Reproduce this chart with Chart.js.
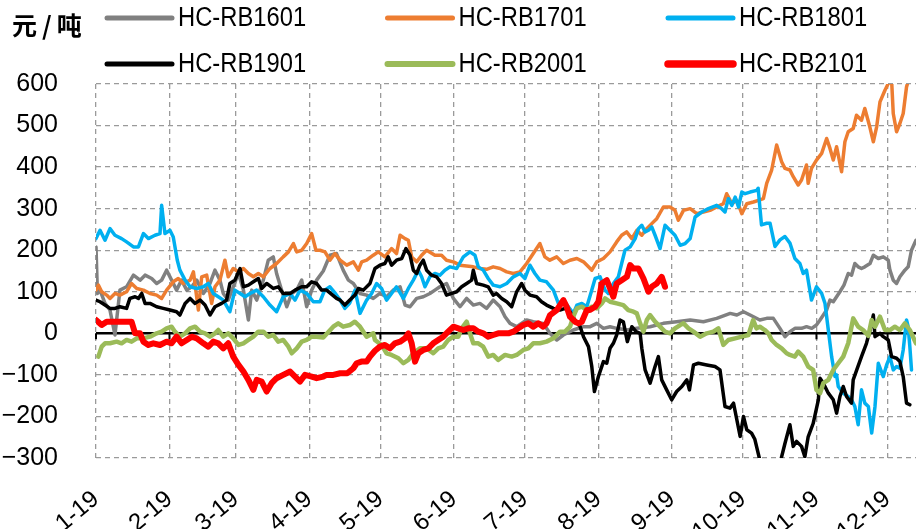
<!DOCTYPE html>
<html>
<head>
<meta charset="utf-8">
<script src="https://cdn.jsdelivr.net/npm/chart.js@4.4.1/dist/chart.umd.min.js"></script>
<style>
  html, body { margin: 0; padding: 0; background: #fff; }
  #wrap { width: 916px; height: 529px; }
</style>
</head>
<body>
<div id="wrap"><canvas id="chart" width="916" height="529"></canvas></div>
<script>
// day of year (Jan 1 = 0) where every month starts, and its label
const monthDays = [0, 31, 59, 90, 120, 151, 181, 212, 243, 273, 304, 334];
const monthLabels = ['1-19', '2-19', '3-19', '4-19', '5-19', '6-19', '7-19', '8-19', '9-19', '10-19', '11-19', '12-19'];
const unitLabel = '元/吨';
const seriesNames = ['HC-RB1601', 'HC-RB1701', 'HC-RB1801', 'HC-RB1901', 'HC-RB2001', 'HC-RB2101'];

// [day, spread]
const rb1601 = [[0,208],[0.6,96],[1.7,104],[3.8,72],[5.9,56],[8,-4],[10.1,104],[12.9,112],[15.8,140],[18.6,128],[20.7,140],[23.5,132],[25.6,120],[27.7,128],[29.8,152],[31.9,128],[34,104],[36.1,128],[38.3,104],[40.4,112],[42.5,128],[45.3,96],[48.1,120],[50.2,152],[52.3,128],[53.7,96],[55.8,80],[57.9,112],[60.1,144],[62.2,104],[64.3,32],[65.7,104],[67.8,80],[70.6,128],[72.7,176],[74.8,184],[76.2,144],[78.3,104],[80.5,64],[82.6,96],[84.7,104],[86.8,128],[88.9,64],[91,104],[93.1,128],[95.9,150],[98.7,188],[101.5,192],[104.3,152],[106.5,128],[108.6,120],[111.4,96],[114.2,92],[117,84],[119.8,96],[122.6,88],[125.4,104],[128.3,112],[130.4,68],[132.5,64],[135.3,84],[138.1,88],[140.9,96],[143,104],[145.1,112],[147.9,120],[150.8,84],[153.6,64],[156.4,84],[159.2,68],[162,72],[164.8,60],[167.6,80],[170.5,64],[172.6,40],[174.7,24],[177.5,16],[181.7,32],[184.5,28],[188.7,24],[191.5,0],[194.4,-16],[197.2,-4],[201.4,8],[205.7,16],[208.5,16],[211.3,24],[214.1,12],[216.9,16],[219.7,12],[224,8],[228.2,12],[233.8,16],[239.4,24],[245,28],[250.7,32],[256.3,28],[261.9,36],[267.6,48],[270.4,44],[273.2,52],[276,44],[280.1,32],[283,36],[285.8,36],[288.6,12],[290.7,-8],[292.8,4],[294.9,12],[297.7,12],[299.8,16],[302,12],[304,20],[305.5,32],[306.9,44],[308.3,56],[309.7,80],[311.1,76],[312.5,88],[313.9,100],[315.6,116],[317.4,144],[318.8,140],[320.2,168],[321.6,160],[323,156],[324.4,160],[326.6,168],[328,188],[330.1,180],[332.2,184],[334.3,176],[335,152],[336.4,128],[337.8,120],[339.2,136],[341.3,152],[342.7,160],[344.1,200],[346,224]];

const rb1701 = [[0,104],[1,116],[2.4,100],[4.5,92],[5.9,84],[8,96],[10.1,92],[12.9,100],[15,120],[17.2,108],[20,104],[22.8,96],[25.6,92],[27.7,84],[29.8,104],[32.6,124],[34.7,132],[36.8,120],[39.7,128],[41.1,148],[43.2,56],[44.6,136],[46.7,140],[48.8,72],[50.2,112],[52.3,128],[54.4,176],[55.8,136],[57.9,156],[60.1,148],[62.2,156],[64.3,144],[66.4,136],[68.5,144],[70.6,136],[73.4,156],[76.2,168],[79,184],[81.2,196],[83.3,216],[84.7,196],[86.8,200],[88.9,216],[91,240],[92.8,200],[94.5,200],[96.6,196],[98.7,176],[100.8,192],[103,176],[105.8,164],[108.6,172],[110.7,152],[112.1,172],[114.2,176],[117,188],[119.1,196],[121.9,184],[124.7,204],[126.8,192],[128.3,236],[130.4,228],[131.8,224],[133.2,184],[135.3,172],[137.4,188],[139.5,200],[143,188],[145.8,188],[147.9,176],[150.8,172],[153.6,164],[156.4,162],[159.2,160],[162,156],[164.8,154],[167.6,160],[170.5,156],[173.3,148],[176.1,144],[178.9,148],[181.7,168],[184.5,192],[187.3,216],[189.4,184],[191.5,176],[194.4,184],[197.2,168],[200,176],[202.9,180],[205.7,172],[207.8,160],[209.2,152],[211.3,172],[214.1,180],[216.9,196],[219.7,220],[221.8,236],[223.9,244],[226.1,228],[228.2,248],[230.3,236],[232.4,252],[234.5,264],[236.6,276],[239.4,304],[242.2,304],[244.3,296],[245.7,272],[247.9,296],[250.7,300],[253.5,288],[256.3,292],[259.1,296],[261.9,304],[264.7,312],[266.1,336],[268.3,312],[270.4,320],[272.5,288],[274.6,312],[277.4,316],[279.5,320],[281.6,324],[283,361],[285.1,393],[287.2,453],[289.3,413],[290.7,397],[292.8,393],[294.2,377],[296.3,357],[297.7,369],[299.8,405],[300.5,361],[301.9,397],[304,417],[306.2,433],[308.3,469],[309.7,445],[311.1,417],[312.5,449],[314.6,389],[316,461],[317.4,485],[319.5,493],[320.9,525],[323,513],[324.4,541],[326.5,497],[328,461],[329.4,497],[330.8,557],[332.9,585],[334.3,601],[335.7,610],[336.4,529],[337.8,485],[339.2,505],[340.6,529],[342,593],[343.4,620],[346,640]];

const rb1801 = [[0,228],[1.7,248],[3.8,224],[5.9,252],[8,236],[10.8,228],[12.9,220],[15.8,208],[17.9,208],[20,240],[22.1,228],[24.9,236],[27,240],[27.7,308],[29.1,240],[31.2,248],[32.6,232],[34.3,176],[35.4,152],[37.6,128],[39.7,112],[42.5,108],[45.3,112],[47.4,120],[49.5,96],[51.6,88],[53.7,80],[56.5,52],[58.6,104],[60.8,96],[62.9,88],[65,96],[67.8,104],[70.6,88],[73.4,68],[76.2,52],[79,88],[81.9,96],[84,80],[86.1,104],[88.9,96],[91.7,76],[94.5,76],[96.5,104],[98.7,112],[101,96],[103,80],[105,60],[107,72],[109.3,104],[111.4,48],[114.2,80],[116.3,96],[118.4,120],[120.5,108],[122.6,80],[124.7,96],[126.8,112],[129.7,84],[131.8,108],[133.9,128],[136,152],[137.4,136],[138.8,112],[140.9,136],[143,144],[145.1,140],[147.2,152],[149.4,160],[152.2,156],[155,184],[157.8,196],[159.9,188],[161.3,160],[163.4,152],[165.5,132],[167.6,116],[170.5,112],[173.3,120],[176.1,136],[178.9,144],[181,132],[183.1,164],[185.2,144],[187.3,128],[190.1,124],[193,104],[195.1,72],[197.2,80],[199.3,64],[201.4,48],[202.9,68],[205,72],[207.1,64],[209.2,104],[210.6,132],[212.7,136],[214.8,104],[216.2,96],[218.3,120],[220.4,136],[221.8,168],[223.2,200],[225.4,208],[227.5,228],[228.9,252],[230.3,260],[231.7,244],[233.1,248],[234.5,256],[235.9,236],[238,204],[240.1,260],[242.2,248],[244.3,236],[246.5,212],[248.6,216],[250.7,228],[252.8,280],[255.6,292],[258.4,300],[261.9,308],[264,300],[265.4,292],[266.8,324],[268.3,308],[269.7,328],[271.1,304],[272.5,340],[273.9,336],[276,340],[278.8,344],[279.4,349],[280.8,261],[283,265],[284.4,265],[286.5,209],[288.6,225],[290.7,233],[292.8,217],[294.9,180],[297,168],[298.4,144],[299.8,152],[301.9,80],[304,112],[306.2,96],[307.6,72],[309,8],[310.4,-56],[311.8,-104],[312.5,-100],[313.2,-128],[315.3,-144],[317.4,-152],[318.8,-160],[320.2,-176],[321.6,-220],[323,-136],[324.4,-168],[325.9,-176],[327.3,-240],[328.7,-176],[330.1,-72],[332.2,-104],[333.6,-76],[335,-56],[336.4,-88],[337.8,-80],[339.2,-84],[340.6,-40],[342,32],[342.7,16],[343.4,-32],[344.1,-88]];

const rb1901 = [[0,80],[1.7,76],[3.8,68],[5.9,60],[8,60],[10.1,64],[12.9,60],[14.3,84],[16.5,88],[17.9,84],[19.3,96],[20.7,72],[22.8,72],[25.6,64],[28.4,60],[31.2,56],[34,52],[35.4,44],[37.6,72],[39.7,84],[41.8,72],[43.9,80],[46,68],[48.1,44],[50.2,64],[53,72],[55.1,80],[56.5,120],[58.6,128],[60.8,156],[62.2,112],[64.3,116],[66.4,124],[68.5,132],[69.9,108],[72,120],[74.8,108],[76.9,112],[79,96],[81.9,96],[84,104],[86.8,112],[88.9,112],[91,124],[93.1,120],[95.2,104],[97.3,104],[101.5,84],[103,80],[105,68],[107.1,80],[109.3,92],[110.7,108],[112.8,104],[115.6,120],[117.7,156],[119.8,164],[121.9,168],[123.3,184],[124.7,164],[126.8,176],[129,180],[130.8,204],[132.5,188],[133.9,152],[135.3,144],[136.7,164],[138.1,176],[139.5,152],[141.6,140],[143.7,136],[145.8,120],[147.9,92],[150.1,96],[152.2,100],[154.3,112],[156.4,120],[158.5,128],[159.2,152],[160.6,120],[163.4,116],[165.5,112],[167.6,92],[169,96],[171.2,84],[173.3,76],[175.4,64],[177.5,100],[179.6,120],[181,104],[183.1,92],[185.9,88],[188,76],[190.1,68],[193,60],[195.8,56],[197.9,60],[200,52],[202.1,32],[204.3,16],[205.7,-8],[207.8,-32],[209.2,-80],[210.3,-140],[212,-104],[214.1,-68],[215.5,-72],[216.9,-36],[218.3,-24],[219.7,-4],[221.1,32],[222.5,28],[224.2,-20],[226.1,16],[227.9,4],[229.6,0],[230.3,-36],[231.7,-88],[233.8,-120],[235.9,-80],[237.3,-56],[238.7,-112],[240.8,-136],[242.9,-160],[245,-140],[247.2,-128],[249.3,-112],[250.4,-136],[252.1,-76],[254.2,-72],[257.7,-76],[261.2,-80],[263.3,-88],[265.4,-176],[267.5,-180],[269,-168],[270.4,-208],[271.8,-248],[273.2,-200],[274.6,-232],[276.6,-240],[278,-255],[280.1,-305],[282.2,-330],[286,-330],[288.6,-313],[290.7,-265],[292.8,-220],[294.2,-272],[295.6,-260],[297.7,-272],[299.1,-297],[300.5,-249],[302.6,-217],[304.8,-160],[305.5,-108],[306.9,-120],[309,-144],[311.1,-160],[312.5,-192],[313.9,-152],[315.3,-128],[316.7,-152],[318.8,-168],[319.5,-112],[321,-88],[323,-56],[325.1,-24],[326.6,8],[328,44],[328.7,-8],[330.8,0],[332.2,-8],[334.3,-16],[335.7,-56],[337.8,-60],[339.2,-68],[340.6,-104],[342,-168],[343.4,-172]];

const rb2001 = [[1,-56],[2.4,-32],[3.8,-24],[5.9,-24],[8.7,-20],[10.8,-24],[12.9,-16],[15,-20],[17.2,-12],[20,-12],[22.8,-8],[25.6,0],[27.7,4],[29.8,12],[31.9,16],[33.3,4],[35.4,-8],[37.6,0],[39.7,12],[41.8,16],[43.9,4],[46,0],[48.1,-8],[50.2,0],[51.6,8],[53.7,-8],[55.8,0],[57.9,-12],[60.1,-28],[62.2,-24],[64.3,-16],[66.4,-8],[68.5,4],[70.6,4],[72.7,-8],[74.8,-4],[76.9,-20],[79,-16],[81.2,-32],[82.6,-48],[84.7,-36],[86.8,-20],[88.9,-16],[91,-8],[93.1,-8],[95.9,-10],[100.1,16],[102.2,24],[104.3,16],[107.1,20],[109.2,28],[111.4,16],[114.2,-8],[117,0],[117.7,-16],[120.5,-28],[122.6,-48],[124.7,-52],[127.6,-60],[129.7,-72],[131.8,-64],[133.9,-48],[136.7,-36],[139.5,-36],[142.3,-48],[144.4,-36],[146.5,-32],[148.6,-16],[150.8,-8],[152.9,-8],[154.3,12],[156.4,28],[157.8,0],[159.2,-24],[161.3,-24],[163.4,-32],[165.5,-56],[167.6,-52],[169.7,-64],[172.6,-52],[175.4,-56],[177.5,-52],[180.3,-40],[182.4,-36],[184.5,-24],[187.3,-24],[190.1,-20],[193,-12],[195.8,4],[197.9,4],[200,16],[201.4,40],[202.9,60],[205,64],[207.1,56],[209.2,64],[211.3,60],[213.4,72],[214.8,84],[216.9,76],[219.7,72],[222.5,68],[224.6,56],[226.8,52],[228.2,48],[229.6,24],[231,4],[232.4,32],[233.8,44],[235.9,28],[238,16],[240.1,4],[242.2,0],[244.3,12],[246.5,20],[247.9,24],[250,12],[252.1,4],[254.9,-8],[257.7,0],[260.5,4],[262.6,12],[264.7,-28],[266.8,-16],[269.7,-12],[272.5,-8],[275.3,-4],[277.3,32],[278.7,12],[280.1,16],[282.2,8],[283.7,0],[285.1,-16],[287.2,-28],[289.3,-36],[291.4,-48],[292.8,-52],[294.9,-56],[296.3,-44],[298.4,-56],[300.5,-80],[302.6,-88],[304,-136],[305.5,-144],[306.9,-120],[309,-112],[311.1,-88],[313.2,-72],[315.3,-56],[317.4,-24],[319.5,36],[321.6,16],[323.7,8],[325.9,-6],[327.3,32],[328.7,16],[330.8,40],[332.9,8],[335,8],[337.1,16],[339.2,8],[341.3,24],[343.4,8],[346,-24]];

const rb2101 = [[0,32],[2.4,20],[4.5,28],[7.3,28],[10.1,28],[12.9,28],[15,28],[16.5,0],[18.6,0],[20,-20],[22.1,-28],[24.2,-24],[27,-28],[29.8,-20],[31.9,-24],[34,-8],[36.1,-24],[38.3,-16],[40.4,-8],[42.5,-12],[45.3,-24],[47.4,-32],[49.5,-20],[51.6,-24],[53.7,-36],[55.8,-24],[57.9,-56],[60.1,-76],[62.2,-92],[64.3,-112],[66.4,-136],[67.8,-112],[69.9,-116],[72,-140],[74.1,-120],[76.2,-108],[79,-100],[81.9,-92],[84,-104],[86.1,-116],[88.2,-100],[91,-104],[93.1,-108],[95.9,-104],[97.3,-100],[100.1,-100],[103,-96],[106,-96],[108.6,-84],[110,-72],[112,-68],[114.2,-68],[115.6,-56],[117.7,-42],[119.8,-32],[121.9,-28],[124,-36],[126.1,-24],[128.3,-20],[130.4,-12],[131.8,0],[133.2,-24],[134.6,-68],[136,-48],[138.1,-40],[140.2,-36],[142.3,-24],[144.4,-16],[146.5,-8],[148.6,4],[150.8,16],[152.9,12],[155,8],[157.1,12],[159.2,12],[161.3,4],[163.4,0],[165.5,-8],[167.6,-4],[169.7,0],[171.9,0],[174,0],[176.1,4],[178.2,12],[180.3,20],[182.4,24],[184.5,16],[186.6,24],[188.7,16],[190.1,24],[191.6,44],[194.4,56],[197.2,80],[198.6,64],[200,40],[202.1,28],[203.6,24],[205,28],[207.1,56],[208.4,56],[210.6,64],[212,76],[213.4,120],[215.5,128],[216.9,108],[218.3,88],[219.7,120],[221.8,128],[224,136],[225.4,164],[226.8,156],[228.9,156],[231,132],[233.1,100],[234.5,112],[236.6,120],[238.7,136],[240.1,112]];

const allSeries = [rb1601, rb1701, rb1801, rb1901, rb2001, rb2101];
const colors = ['#808080', '#ED7D31', '#00B0F0', '#000000', '#9BBB59', '#FF0000'];
const widths = [3.5, 3.5, 3.5, 3.5, 4.5, 6];

const tickFont = "'Liberation Sans', Arial, sans-serif";

// black zero line with little ticks under it, drawn below the series
const zeroLine = {
    id: 'zeroLine',
    beforeDatasetsDraw(chart) {
        const { ctx, chartArea, scales } = chart;
        const y0 = scales.y.getPixelForValue(0);
        ctx.save();
        ctx.strokeStyle = '#000';
        ctx.lineWidth = 2.5;
        ctx.beginPath();
        ctx.moveTo(chartArea.left, y0);
        ctx.lineTo(chartArea.right, y0);
        ctx.stroke();
        ctx.lineWidth = 2;
        monthDays.forEach(d => {
            const px = scales.x.getPixelForValue(d);
            ctx.beginPath();
            ctx.moveTo(px, y0);
            ctx.lineTo(px, y0 + 6);
            ctx.stroke();
        });
        ctx.restore();
    }
};

// unit text and the two-row legend at the top
const topLegend = {
    id: 'topLegend',
    afterDraw(chart) {
        const ctx = chart.ctx;
        ctx.save();
        ctx.fillStyle = '#000';
        ctx.textBaseline = 'middle';
        ctx.textAlign = 'left';
        ctx.font = "bold 25px 'Noto Sans CJK SC'";
        ctx.letterSpacing = '5px';
        ctx.fillText(unitLabel, 12, 25);
        ctx.letterSpacing = '0px';

        chart.data.datasets.forEach((ds, i) => {
            const lx = 107 + (i % 3) * 280.5;
            const ly = 18 + Math.floor(i / 3) * 46;
            ctx.strokeStyle = ds.borderColor;
            ctx.lineWidth = ds.borderWidth + 1.5;
            ctx.lineCap = 'round';
            ctx.beginPath();
            ctx.moveTo(lx, ly);
            ctx.lineTo(lx + 65, ly);
            ctx.stroke();

            ctx.save();
            ctx.translate(lx + 71, ly + 1);
            ctx.scale(0.88, 1);
            ctx.font = "27px 'Liberation Sans'";
            ctx.fillText(ds.label, 0, 0);
            ctx.restore();
        });
        ctx.restore();
    }
};

const datasets = allSeries.map((pts, i) => ({
    label: seriesNames[i],
    data: pts.map(p => ({ x: p[0], y: p[1] })),
    borderColor: colors[i],
    backgroundColor: colors[i],
    borderWidth: widths[i],
    borderJoinStyle: 'round',
    borderCapStyle: 'round',
    pointRadius: 0,
    tension: 0,
    fill: false,
    order: allSeries.length - i
}));

new Chart(document.getElementById('chart'), {
    type: 'line',
    data: { datasets: datasets },
    plugins: [zeroLine, topLegend],
    options: {
        responsive: false,
        animation: false,
        devicePixelRatio: 1,
        layout: { padding: { top: 84, left: 0, right: 0, bottom: 0 } },
        plugins: {
            legend: { display: false },
            tooltip: { enabled: false }
        },
        scales: {
            x: {
                type: 'linear',
                min: 0,
                max: 346,
                afterBuildTicks: s => { s.ticks = monthDays.map(v => ({ value: v })); },
                afterFit: s => { s.height = 71; s.paddingLeft = 0; s.paddingRight = 0; },
                ticks: {
                    autoSkip: false,
                    minRotation: 40,
                    maxRotation: 40,
                    padding: 27,
                    color: '#000',
                    font: { family: tickFont, size: 24 },
                    callback: (v, i) => monthLabels[i]
                },
                grid: { color: '#9a9a9a', lineWidth: 1.3, drawTicks: false },
                border: { display: false, dash: [5, 4] }
            },
            y: {
                min: -300,
                max: 600,
                afterFit: s => { s.width = 96; s.paddingTop = 0; s.paddingBottom = 0; },
                ticks: {
                    stepSize: 100,
                    padding: 38,
                    color: '#000',
                    font: { family: tickFont, size: 25 },
                    callback: v => (v < 0 ? '\u2212' + (-v) : String(v))
                },
                grid: {
                    color: c => (c.tick && c.tick.value === 0 ? 'rgba(0,0,0,0)' : '#9a9a9a'),
                    lineWidth: 1.3,
                    drawTicks: false
                },
                border: { display: false, dash: [5, 4] }
            }
        }
    }
});
</script>
</body>
</html>
